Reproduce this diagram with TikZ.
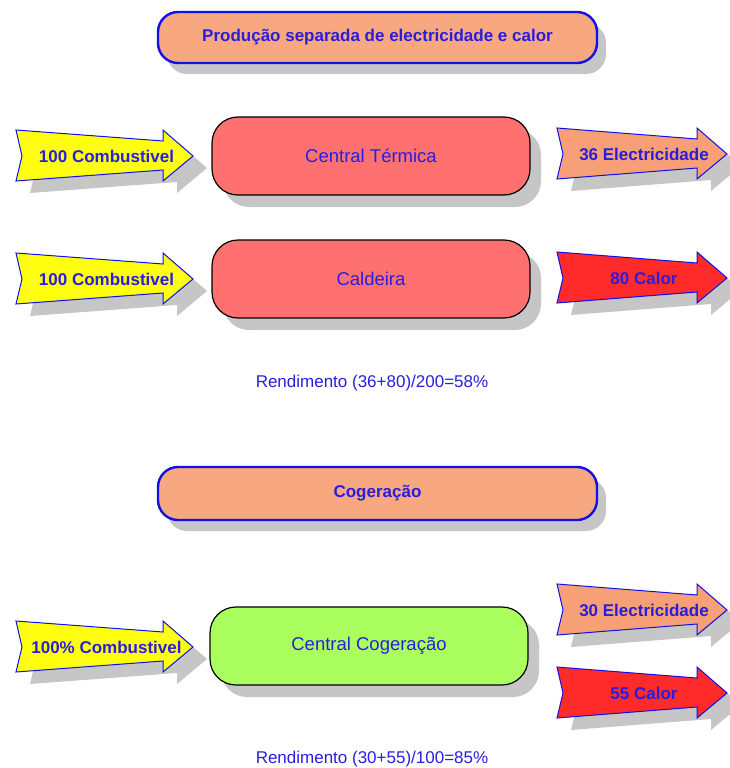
\documentclass[tikz,border=0pt]{standalone}
\usepackage{fontspec}
\setmainfont{Liberation Sans}
\usetikzlibrary{shadows}
\definecolor{txtblue}{HTML}{2A1EDC}
\definecolor{bordblue}{HTML}{1010E8}
\definecolor{titlefill}{HTML}{F8A880}
\definecolor{boxred}{HTML}{FF7070}
\definecolor{boxgreen}{HTML}{AAFF5F}
\definecolor{fuelyellow}{HTML}{FFFF10}
\definecolor{elecsalmon}{HTML}{F7A077}
\definecolor{heatred}{HTML}{FF2A2A}
\definecolor{shadowgray}{HTML}{C6C6C6}
\tikzset{
  lbl/.style={text=txtblue, font=\bfseries\fontsize{17}{19}\selectfont, inner sep=0pt},
  boxlbl/.style={text=txtblue, font=\fontsize{18.5}{21}\selectfont},
  yieldlbl/.style={text=txtblue, font=\fontsize{17}{19}\selectfont, inner sep=0pt},
  titlebox/.style={draw=bordblue, line width=2.4pt, fill=titlefill, rounded corners=20pt,
    text=txtblue, font=\bfseries\fontsize{17}{19}\selectfont,
    drop shadow={shadow xshift=9pt, shadow yshift=-11pt, fill=shadowgray, opacity=1}},
  procbox/.style={draw=black, line width=1.2pt, rounded corners=26pt,
    minimum width=318pt, minimum height=78pt,
    drop shadow={shadow xshift=11pt, shadow yshift=-12pt, fill=shadowgray, opacity=1}},
  flow/.style={draw=bordblue, line width=1pt, line join=miter},
}
% block arrow: #1 name, #2 left x, #3 tip x, #4 centre y, #5 fill, #6 label
\newcommand\blockarrow[6]{%
  \fill[shadowgray, shift={(14,12)}]
    (#2,#4-26) -- (#3-30,#4-15) -- (#3-30,#4-26) -- (#3,#4) -- (#3-30,#4+25)
    -- (#3-30,#4+14) -- (#2,#4+25) -- (#2+6,#4) -- cycle;
  \draw[flow, fill=#5]
    (#2,#4-26) -- (#3-30,#4-15) -- (#3-30,#4-26) -- (#3,#4) -- (#3-30,#4+25)
    -- (#3-30,#4+14) -- (#2,#4+25) -- (#2+6,#4) -- cycle;
  \node[lbl] (#1) at ({(#2+#3)/2+2},#4) {#6};
}
\begin{document}
\begin{tikzpicture}[x=1pt,y=-1pt]
\useasboundingbox (0,0) rectangle (729,768);

% separate production
\node[titlebox, minimum width=439pt, minimum height=51pt] (sep) at (377.5,37.5)
  {Produção separada de electricidade e calor};

\node[procbox, fill=boxred] (thermal) at (371,156) {};
\node[boxlbl] (thermallbl) at (thermal) {Central Térmica};
\node[procbox, fill=boxred] (boiler) at (371,279) {};
\node[boxlbl] (boilerlbl) at (boiler) {Caldeira};

\blockarrow{fuelA}{16}{193}{156}{fuelyellow}{100 Combustivel}
\blockarrow{elecA}{557}{727}{154}{elecsalmon}{36 Electricidade}
\blockarrow{fuelB}{16}{193}{279}{fuelyellow}{100 Combustivel}
\blockarrow{heatA}{557}{727}{278}{heatred}{80 Calor}

\node[yieldlbl] (yieldA) at (372,383) {Rendimento (36+80)/200=58\%};

% cogeneration
\node[titlebox, minimum width=439pt, minimum height=53pt] (cog) at (377.5,493.5)
  {Cogeração};

\node[procbox, fill=boxgreen] (chp) at (369,646) {};
\node[boxlbl] (chplbl) at (chp) {Central Cogeração};

\blockarrow{fuelC}{16}{193}{647}{fuelyellow}{100\% Combustivel}
\blockarrow{elecB}{557}{727}{610}{elecsalmon}{30 Electricidade}
\blockarrow{heatB}{557}{727}{693}{heatred}{55 Calor}

\node[yieldlbl] (yieldB) at (372,759) {Rendimento (30+55)/100=85\%};
\end{tikzpicture}
\end{document}
